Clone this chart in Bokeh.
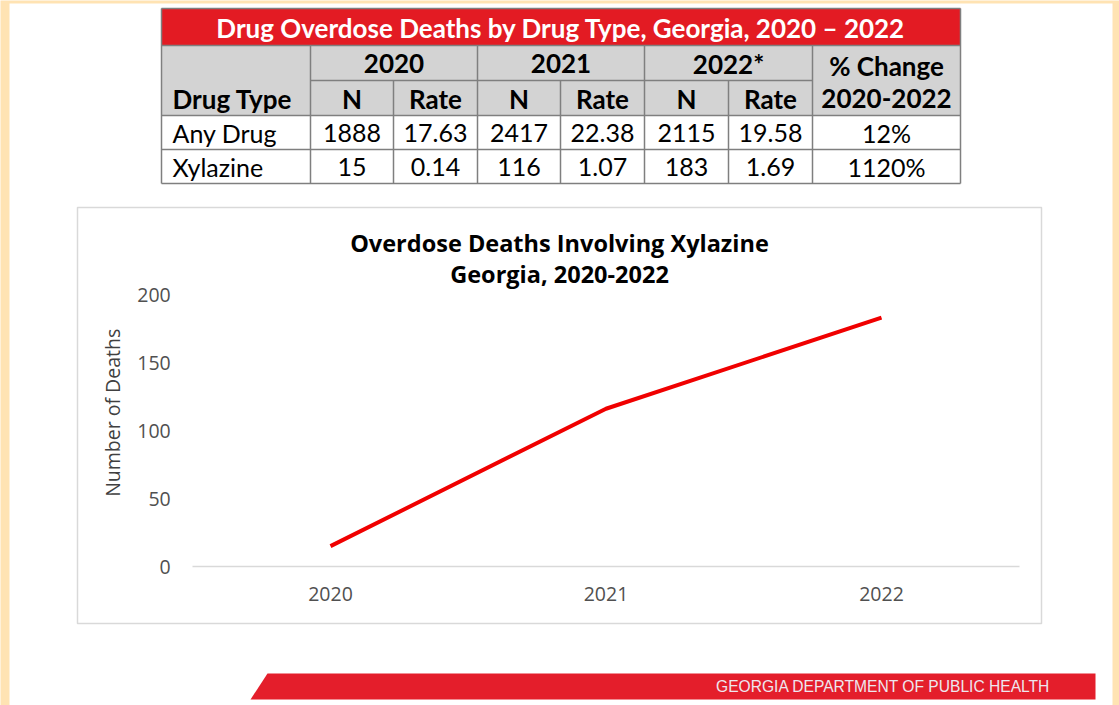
import math
from bokeh.plotting import figure
from bokeh.models import Range1d, LinearAxis, FixedTicker
from bokeh.core.properties import value
from bokeh.embed import file_html
from bokeh.resources import INLINE

# ---------------- data ----------------
years = [2020, 2021, 2022]
xylazine_deaths = [15, 116, 183]
y_ticks = [0, 50, 100, 150, 200]
chart_title = ["Overdose Deaths Involving Xylazine", "Georgia, 2020-2022"]
y_label = "Number of Deaths"

table_title = "Drug Overdose Deaths by Drug Type, Georgia, 2020 \u2013 2022"
year_headers = ["2020", "2021", "2022*"]
sub_headers = ["N", "Rate"]
change_header = ["% Change", "2020-2022"]
drug_header = "Drug Type"
drug_types = ["Any Drug", "Xylazine"]
any_drug_values = ["1888", "17.63", "2417", "22.38", "2115", "19.58", "12%"]
xylazine_values = ["15", "0.14", "116", "1.07", "183", "1.69", "1120%"]
footer_text = "GEORGIA DEPARTMENT OF PUBLIC HEALTH"

# ---------------- layout (pixels) ----------------
W, H = 1119, 705
BG = "#FFE3B3"
RED = "#E31B23"
GRAY_FILL = "#D3D3D3"
LINE = "#7F7F7F"

p = figure(width=W, height=H, x_range=Range1d(0, W), y_range=Range1d(H, 0),
           output_backend="svg", toolbar_location=None, x_axis_type=None,
           y_axis_type=None, min_border=0)
p.outline_line_color = None
p.background_fill_color = BG
p.border_fill_color = BG

# white page
p.quad(left=9, right=1112, top=3, bottom=H, fill_color="white", line_color=None)

# ---------------- table ----------------
col_edges = [161, 310, 393, 477, 560, 644, 728, 812, 960]
row_edges = [8, 45, 80, 115, 149, 183]
T_L, T_R = col_edges[0], col_edges[-1]

p.quad(left=T_L, right=T_R, top=row_edges[0], bottom=row_edges[1], fill_color=RED, line_color=None)
p.quad(left=T_L, right=T_R, top=row_edges[1], bottom=row_edges[3], fill_color=GRAY_FILL, line_color=None)
p.quad(left=T_L, right=T_R, top=row_edges[3], bottom=row_edges[5], fill_color="white", line_color=None)

x0s, y0s, x1s, y1s = [], [], [], []
for y in [row_edges[0], row_edges[1], row_edges[3], row_edges[4], row_edges[5]]:
    x0s.append(T_L); x1s.append(T_R); y0s.append(y); y1s.append(y)
x0s.append(col_edges[1]); x1s.append(col_edges[7]); y0s.append(row_edges[2]); y1s.append(row_edges[2])
for i, x in enumerate(col_edges):
    if i in (0, 8):
        x0s.append(x); x1s.append(x); y0s.append(row_edges[0]); y1s.append(row_edges[5])
    elif i in (1, 3, 5, 7):
        x0s.append(x); x1s.append(x); y0s.append(row_edges[1]); y1s.append(row_edges[5])
    else:
        x0s.append(x); x1s.append(x); y0s.append(row_edges[2]); y1s.append(row_edges[5])
p.segment(x0=x0s, y0=y0s, x1=x1s, y1=y1s, line_color=LINE, line_width=1.5)

TFONT = value("Lato")
HDR = "26px"
BODY = "25px"
p.text(x=[(T_L + T_R) / 2], y=[27], text=[table_title], text_align="center",
       text_baseline="middle", text_font=TFONT, text_font_size="26px",
       text_font_style="bold", text_color="white")

yh_x = [(col_edges[1 + 2 * i] + col_edges[3 + 2 * i]) / 2 for i in range(3)]
p.text(x=yh_x, y=[63] * 3, text=year_headers, text_align="center", text_baseline="middle",
       text_font=TFONT, text_font_size=HDR, text_font_style="bold", text_color="black")
sh_x = [(col_edges[i] + col_edges[i + 1]) / 2 for i in range(1, 7)]
p.text(x=sh_x, y=[98] * 6, text=sub_headers * 3, text_align="center", text_baseline="middle",
       text_font=TFONT, text_font_size=HDR, text_font_style="bold", text_color="black")
p.text(x=[T_L + 11], y=[98], text=[drug_header], text_align="left", text_baseline="middle",
       text_font=TFONT, text_font_size=HDR, text_font_style="bold", text_color="black")
chg_x = (col_edges[7] + col_edges[8]) / 2
p.text(x=[chg_x, chg_x], y=[65, 98], text=change_header, text_align="center", text_baseline="middle",
       text_font=TFONT, text_font_size=HDR, text_font_style="bold", text_color="black")

val_x = sh_x + [chg_x]
for r, (name, vals) in enumerate(zip(drug_types, [any_drug_values, xylazine_values])):
    yc = (row_edges[3 + r] + row_edges[4 + r]) / 2
    p.text(x=[T_L + 11], y=[yc], text=[name], text_align="left", text_baseline="middle",
           text_font=TFONT, text_font_size=BODY, text_color="black")
    p.text(x=val_x, y=[yc] * len(vals), text=vals, text_align="center", text_baseline="middle",
           text_font=TFONT, text_font_size=BODY, text_color="black")

# ---------------- chart box ----------------
p.quad(left=77, right=1041, top=207, bottom=623, fill_color="white", line_color="#D9D9D9", line_width=1.5)

p.text(x=[559, 559], y=[242, 273], text=chart_title, text_align="center", text_baseline="middle",
       text_font=value("Open Sans"), text_font_size="23.5px", text_font_style="bold", text_color="black")

# chart scales: category centres at pixel positions, value axis 0..200
x_first_px, x_last_px = 330, 881
px_per_year = (x_last_px - x_first_px) / (years[-1] - years[0])
x_start = years[0] - x_first_px / px_per_year
p.extra_x_ranges = {"yr": Range1d(x_start, x_start + W / px_per_year)}
zero_px, top_px = 566, 294
px_per_death = (zero_px - top_px) / (y_ticks[-1] - y_ticks[0])
y_start = y_ticks[0] - (H - zero_px) / px_per_death
p.extra_y_ranges = {"n": Range1d(y_start, y_start + H / px_per_death)}

p.line(x=years, y=xylazine_deaths, x_range_name="yr", y_range_name="n",
       line_color="#F00000", line_width=4)

xax = LinearAxis(x_range_name="yr", y_range_name="n", fixed_location=y_ticks[0],
                 ticker=FixedTicker(ticks=years), bounds=(years[0] - 0.5, years[-1] + 0.5))
xax.axis_line_color = "#D9D9D9"
xax.axis_line_width = 1.5
xax.major_tick_line_color = None
xax.minor_tick_line_color = None
xax.major_tick_in = 0
xax.major_tick_out = 0
xax.major_label_standoff = 20
xax.major_label_text_font = "Open Sans"
xax.major_label_text_font_size = "19.5px"
xax.major_label_text_color = "#505050"
p.add_layout(xax, "below")

yax = LinearAxis(x_range_name="yr", y_range_name="n", fixed_location=years[0] - 0.5,
                 ticker=FixedTicker(ticks=y_ticks))
yax.axis_line_color = None
yax.major_tick_line_color = None
yax.minor_tick_line_color = None
yax.major_tick_in = 0
yax.major_tick_out = 0
yax.major_label_standoff = 22
yax.major_label_text_font = "Open Sans"
yax.major_label_text_font_size = "19.5px"
yax.major_label_text_color = "#505050"
p.add_layout(yax, "left")

# y axis title, centred a little below the middle of the value range
p.text(x=[years[0] - 0.5 - 80 / px_per_year], y=[(y_ticks[0] + y_ticks[-1]) / 2 + 13],
       x_range_name="yr", y_range_name="n", text=[y_label], angle=math.pi / 2,
       text_align="center", text_baseline="middle", text_font=value("Open Sans"),
       text_font_size="19.5px", text_color="#404040")

# ---------------- footer ----------------
p.patch(x=[267, 1095, 1095, 250], y=[673, 673, 699, 699], fill_color="#E41E2B", line_color=None)
p.text(x=[1050], y=[686], text=[footer_text], text_align="right", text_baseline="middle",
       text_font=value("Liberation Sans"), text_font_size="15.6px", text_color="#EEE6EE")

open("out.html", "w").write(file_html(p, INLINE))
